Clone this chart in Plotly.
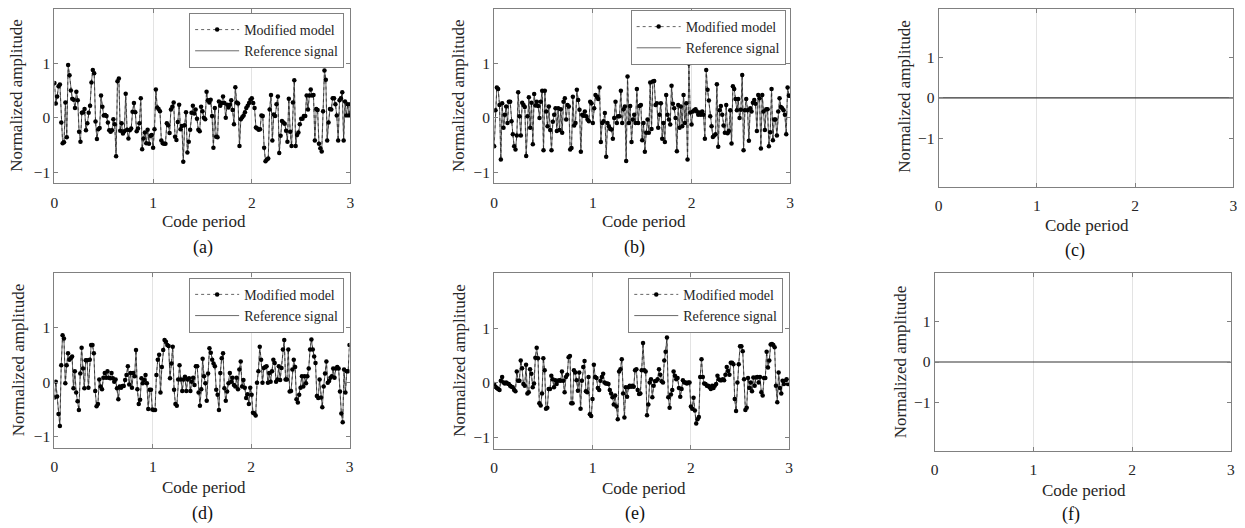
import numpy as np
import plotly.graph_objects as go

# ---------------- data ----------------
amp_a = [
    0.64, 0.26, 0.39, 0.58, 0.61, -0.09, -0.47, -0.45, 0.28, -0.36,
    0.97, 0.78, 0.50, 0.35, 0.33, 0.18, 0.48, 0.32, -0.26, -0.44,
    0.09, 0.10, 0.16, -0.23, -0.10, 0.09, 0.22, 0.65, 0.88, 0.82,
    -0.07, -0.39, -0.21, -0.19, 0.41, 0.20, 0.04, 0.05, 0.03, -0.09,
    -0.23, -0.26, -0.23, -0.03, -0.12, -0.71, 0.67, 0.72, -0.24, -0.10,
    -0.29, -0.25, 0.44, -0.22, -0.38, -0.23, -0.20, 0.11, 0.27, 0.10,
    -0.25, -0.20, -0.10, 0.36,
    -0.58, -0.38, -0.27, -0.47, -0.22, -0.48, -0.33, -0.32, -0.55, -0.21,
    0.52, 0.19, 0.16, 0.12, -0.42, -0.47, -0.48, -0.48, -0.10, -0.14,
    -0.28, 0.15, 0.20, 0.28, -0.35, -0.41, -0.08, 0.24, -0.21, -0.15,
    -0.81, -0.14, 0.10, -0.64, -0.44, -0.22, 0.09, 0.22, 0.08, 0.15,
    -0.02, -0.22, -0.25, 0.20, 0.12, 0.00, -0.03, 0.48, 0.32, 0.28,
    0.33, 0.03, -0.55, 0.18, -0.35, -0.36, 0.30, 0.22, 0.27, 0.39,
    0.27, 0.00, 0.24, 0.19, 0.24, 0.32, 0.14, -0.12, 0.56, 0.28,
    0.26, -0.52, -0.03, 0.01, 0.04, 0.10, 0.18, 0.22, 0.27, 0.33,
    0.36, 0.27, 0.18, -0.18, -0.20, -0.22, -0.21, 0.04, 0.03, -0.55,
    -0.80, -0.77, -0.75, 0.15, 0.42, -0.42, 0.06, 0.03, 0.25, 0.39,
    -0.65, -0.33, -0.06, -0.09, -0.11, -0.24, -0.44, 0.35, -0.26, -0.52,
    0.28, 0.69, -0.52, -0.32, -0.27, -0.12, -0.02, -0.02, 0.03, 0.03,
    0.41, 0.15, 0.41, 0.52, 0.41, 0.42, -0.42, 0.16, 0.14, -0.48,
    -0.56, -0.62, 0.12, 0.87, 0.70, -0.42, -0.09, 0.16, 0.15, 0.36,
    0.36, 0.25, 0.04, -0.42, 0.32, 0.36, 0.47, -0.42, 0.30, 0.04,
    0.25, 0.04, 0.25,
]

amp_b = [
    -0.52, 0.14, 0.56, 0.53, 0.24, -0.76, 0.27, -0.18, 0.06, 0.21,
    -0.09, 0.30, 0.30, -0.06, -0.30, -0.52, -0.58, -0.32, 0.47, 0.03,
    -0.32, 0.28, 0.24, 0.20, -0.70, 0.03, 0.38, -0.18, 0.28, -0.48,
    0.44, 0.23, 0.30, 0.22, 0.00, 0.30, 0.50, -0.59, 0.50, 0.12,
    -0.15, 0.21, -0.22, -0.59, -0.07, 0.06, 0.18, -0.24, 0.18, -0.22,
    0.16, -0.27, 0.30, 0.36, -0.03, 0.24, 0.21, -0.58, -0.55, 0.39,
    -0.14, -0.09, 0.52, 0.33, 0.15, -0.62, 0.06, 0.04, 0.12, 0.03,
    -0.03, -0.06, 0.30, 0.27, -0.09, 0.18, 0.42, 0.39, 0.35, 0.56,
    -0.44, -0.09, -0.06, 0.09, -0.71, -0.09, -0.15, -0.20, -0.21, -0.38,
    0.00, 0.30, -0.09, 0.03, 0.03, 0.50, -0.09, 0.16, 0.21, -0.79,
    0.76, -0.09, 0.22, -0.44, -0.03, 0.06, -0.09, 0.53, -0.09, 0.22,
    0.24, -0.41, -0.09, -0.62, -0.27, -0.03, -0.27, 0.65, -0.20, 0.67,
    0.68, 0.24, 0.27, -0.18, 0.06, 0.27, -0.38, -0.09, -0.44, 0.42,
    0.06, -0.03, -0.12, 0.59, 0.26, 0.18, 0.00, -0.61, 0.24, -0.18,
    0.21, -0.15, 0.42, -0.09, 0.27, -0.76, 1.00, 0.10, -0.12, 0.12,
    0.14, 0.16, 0.12, 0.06, 0.10, 0.06, 0.12, 0.06, -0.38, 0.88,
    0.52, 0.32, 0.03, -0.15, -0.35, -0.32, -0.30, 0.62, -0.53, 0.14,
    0.22, 0.06, -0.14, -0.27, 0.24, -0.28, -0.24, 0.14, -0.47, 0.58,
    0.53, 0.35, 0.14, 0.35, 0.00, 0.15, 0.79, -0.59, 0.14, 0.35,
    0.14, -0.42, 0.18, 0.12, 0.28, 0.33, 0.26, -0.24, 0.42, 0.36,
    -0.56, 0.42, 0.12, -0.22, 0.16, 0.16, -0.52, -0.26, 0.53, -0.41,
    -0.03, -0.03, -0.32, 0.12, 0.36, 0.20, 0.18, 0.14, 0.06, -0.30,
    0.56, 0.41, 0.41,
]

amp_d = [
    -0.28, 0.01, -0.26, -0.58, -0.80, 0.31, 0.86, 0.80, -0.02, 0.31,
    0.53, 0.41, 0.44, 0.47, -0.11, 0.20, -0.19, -0.35, -0.51, 0.16,
    0.63, 0.25, -0.11, 0.40, 0.40, -0.10, 0.41, 0.68, 0.68, 0.53,
    -0.16, -0.44, -0.40, 0.05, -0.08, -0.13, 0.08, 0.17, 0.08, 0.20,
    0.08, 0.07, 0.17, 0.07, 0.01, 0.05, -0.11, -0.31, -0.08, -0.10,
    -0.07, -0.07, 0.04, 0.13, 0.29, -0.04, 0.17, -0.10, 0.17, 0.11,
    0.59, -0.13, -0.40, -0.32, 0.07, -0.02, 0.04, 0.13, -0.02, -0.49,
    -0.14, -0.14, -0.50, -0.51, -0.51, 0.13, 0.41, 0.50, -0.19, 0.28,
    0.59, 0.77, 0.74, 0.68, 0.66, 0.07, 0.34, 0.65, -0.14, -0.40,
    -0.43, 0.05, 0.31, 0.05, -0.16, 0.05, 0.10, -0.16, 0.05, 0.07,
    -0.16, 0.01, 0.08, -0.05, 0.29, 0.29, -0.19, -0.43, -0.13, 0.43,
    0.11, -0.02, -0.34, 0.16, 0.62, 0.54, 0.41, 0.34, 0.29, -0.14,
    -0.23, -0.51, 0.17, 0.44, 0.53, -0.11, -0.34, -0.17, -0.02, 0.17,
    0.01, 0.08, -0.05, -0.08, 0.08, -0.13, 0.23, 0.38, -0.08, 0.04,
    -0.10, -0.29, -0.22, -0.40, -0.10, -0.23, -0.56, -0.57, -0.61, -0.01,
    0.20, 0.65, 0.41, -0.01, 0.26, 0.28, 0.29, -0.01, 0.17, 0.01,
    0.20, 0.41, 0.35, 0.01, 0.05, 0.29, 0.04, 0.26, 0.60, 0.77,
    0.05, 0.05, 0.60, -0.17, -0.16, 0.23, 0.41, 0.28, -0.31, -0.37,
    -0.23, -0.10, 0.11, -0.08, 0.11, -0.02, 0.11, 0.25, 0.60, 0.78,
    0.60, 0.47, 0.35, -0.25, -0.29, 0.05, -0.28, -0.46, -0.08, 0.16,
    0.38, -0.01, 0.02, 0.08, 0.11, 0.25, 0.08, 0.25, 0.28, 0.25,
    -0.17, -0.57, -0.73, 0.23, -0.19, 0.20, 0.20, 0.68,
]

amp_e = [
    -0.02, -0.07, -0.09, -0.11, -0.13, 0.04, 0.11, 0.01, -0.01, 0.01,
    -0.01, -0.02, -0.05, -0.07, -0.08, -0.13, -0.15, 0.21, 0.04, 0.04,
    0.41, 0.27, -0.02, -0.05, 0.33, -0.19, -0.17, 0.25, 0.17, -0.08,
    -0.01, 0.46, 0.64, 0.45, -0.37, -0.41, -0.19, 0.45, 0.23, -0.47,
    -0.45, -0.11, -0.11, 0.13, 0.07, -0.08, 0.05, -0.02, 0.04, 0.05,
    0.04, 0.21, 0.04, -0.17, 0.11, 0.15, 0.47, 0.49, -0.37, -0.37,
    0.23, 0.19, 0.05, -0.14, 0.19, -0.47, 0.04, 0.29, 0.40, -0.15,
    -0.17, 0.11, -0.57, -0.60, -0.29, 0.33, 0.11, 0.09, -0.09, -0.13,
    0.04, 0.11, 0.17, 0.01, -0.01, -0.01, -0.02, -0.13, -0.19, -0.26,
    -0.39, -0.23, -0.43, -0.66, 0.21, 0.25, 0.43, -0.19, -0.63, -0.08,
    -0.25, -0.08, -0.05, -0.07, -0.05, -0.07, 0.23, 0.25, -0.13, -0.20,
    -0.19, 0.23, 0.73, 0.23, 0.21, -0.59, -0.39, 0.01, 0.07, -0.26,
    -0.05, 0.03, 0.04, 0.07, 0.25, 0.15, 0.03, 0.01, 0.41, 0.57,
    0.83, -0.26, -0.45, -0.21, -0.13, 0.21, 0.13, 0.07, 0.09, -0.09,
    -0.25, -0.11, 0.05, 0.01, 0.01, -0.01, 0.01, 0.01, -0.43, -0.47,
    -0.27, -0.50, -0.74, -0.66, -0.62, 0.11, 0.43, 0.11, -0.01, -0.02,
    -0.05, -0.05, -0.08, -0.11, -0.05, -0.09, -0.05, -0.02, 0.13, 0.07,
    0.05, 0.05, 0.07, 0.05, 0.15, 0.29, 0.22, 0.15, 0.37, 0.37,
    0.34, -0.29, -0.51, 0.01, 0.34, 0.67, 0.67, 0.58, 0.07, -0.49,
    -0.45, 0.09, -0.09, 0.01, -0.15, 0.10, -0.05, 0.10, 0.11, 0.01,
    0.11, -0.17, -0.23, 0.09, 0.09, 0.57, 0.28, 0.41, 0.70, 0.71,
    0.69, 0.65, -0.05, -0.35, 0.19, -0.09, -0.19, 0.04, -0.02, 0.04,
    0.07, -0.02, -0.02,
]

# panels (c) and (f): both signals are identically zero
flat_x = [0, 3]
flat_c = [0.0, 0.0]
flat_f = [0.0, 0.0]

code_period_span = 3
x_ticks = [0, 1, 2, 3]
y_ticks = [-1, 0, 1]
panel_labels = ["(a)", "(b)", "(c)", "(d)", "(e)", "(f)"]
series_names = ["Modified model", "Reference signal"]
x_title = "Code period"
y_title = "Normalized amplitude"

# ---------------- layout geometry ----------------
# the page body has an 8px margin, so the figure is drawn 8px in from the window corner
OFF = 8
W, H = 1237, 520
FONT = "Liberation Serif, Times New Roman, serif"
TXT = "#262626"
AXC = "#808080"

# plot-area boxes in window pixels: left, top, right, bottom
boxes = [
    (50.7, 8.0, 348.7, 182.3),
    (493.3, 8.0, 791.3, 182.7),
    (940.7, 8.0, 1237.3, 186.0),
    (50.7, 272.3, 347.7, 447.7),
    (493.3, 272.7, 790.3, 448.7),
    (936.7, 272.7, 1234.7, 450.7),
]
yranges = [[-1.2, 2], [-1.2, 2], [-2.2, 2.2], [-1.2, 2], [-1.2, 2], [-2.2, 2.2]]


def clamp(v):
    return min(1.0, max(0.0, v))


def px_x(v):
    return (v - OFF) / W


def px_y(v):
    return 1 - (v - OFF) / H


fig = go.Figure()

signals = [amp_a, amp_b, None, amp_d, amp_e, None]
flats = [None, None, flat_c, None, None, flat_f]
legend_ids = ["legend", "legend2", None, "legend3", "legend4", None]

for i in range(6):
    ax = "" if i == 0 else str(i + 1)
    xref, yref = "x" + ax, "y" + ax
    if signals[i] is not None:
        vals = signals[i]
        xs = np.linspace(0, code_period_span, len(vals))
        fig.add_trace(go.Scatter(
            x=xs, y=vals, mode="lines", name=series_names[1],
            line=dict(color="#6a6a6a", width=1),
            xaxis=xref, yaxis=yref, legend=legend_ids[i], legendrank=2,
        ))
        fig.add_trace(go.Scatter(
            x=xs, y=vals, mode="lines+markers", name=series_names[0],
            line=dict(color="#222222", width=0.7, dash="dot"),
            marker=dict(color="black", size=4.5, symbol="circle"),
            xaxis=xref, yaxis=yref, legend=legend_ids[i], legendrank=1,
        ))
    else:
        fig.add_trace(go.Scatter(
            x=flat_x, y=flats[i], mode="lines", showlegend=False,
            line=dict(color="#333333", width=1.2),
            xaxis=xref, yaxis=yref,
        ))

axis_common = dict(
    showline=True, linecolor=AXC, linewidth=1, mirror="allticks",
    ticks="inside", ticklen=4, tickcolor=AXC, zeroline=False,
    tickfont=dict(family=FONT, size=15.5, color=TXT),
)

layout_axes = {}
for i, (l, t, r, b) in enumerate(boxes):
    ax = "" if i == 0 else str(i + 1)
    layout_axes["xaxis" + ax] = dict(
        axis_common, domain=[clamp(px_x(l)), clamp(px_x(r))], range=[0, 3],
        tickvals=x_ticks, showgrid=True, gridcolor="#e3e3e3", gridwidth=1,
        anchor="y" + ax, ticklabelstandoff=5,
    )
    layout_axes["yaxis" + ax] = dict(
        axis_common, domain=[clamp(px_y(b)), clamp(px_y(t))], range=yranges[i],
        tickvals=y_ticks, showgrid=False, anchor="x" + ax,
    )
fig.update_layout(**layout_axes)

# legends for panels a, b, d, e: (right, top) in window px
legend_pos = {"legend": (342.3, 12), "legend2": (786.7, 9),
              "legend3": (342.3, 277.3), "legend4": (784.3, 277.3)}
leg_layout = {}
for k, (rx, ty) in legend_pos.items():
    leg_layout[k] = dict(
        x=clamp(px_x(rx)), y=clamp(px_y(ty)), xanchor="right", yanchor="top",
        bgcolor="white", bordercolor=AXC, borderwidth=1, itemwidth=44,
        font=dict(family=FONT, size=14, color=TXT), tracegroupgap=0,
    )
fig.update_layout(**leg_layout)

annotations = []
xt_pos = [(201, 221), (644, 221), (1090, 225), (201, 487), (644, 488), (1087, 490)]
yt_pos = [(13, 95), (458, 95), (906.7, 96), (14, 360), (458.3, 360), (901.7, 362)]
lab_pos = [(200, 247), (635, 247), (1078, 250), (200, 513), (635, 513), (1074, 514)]
for i in range(6):
    annotations.append(dict(
        text=x_title, x=px_x(xt_pos[i][0]), y=px_y(xt_pos[i][1]), xref="paper", yref="paper",
        xanchor="center", yanchor="middle", showarrow=False,
        font=dict(family=FONT, size=17, color=TXT),
    ))
    annotations.append(dict(
        text=y_title, x=px_x(yt_pos[i][0]), y=px_y(yt_pos[i][1]), xref="paper", yref="paper",
        xanchor="center", yanchor="middle", showarrow=False, textangle=-90,
        font=dict(family=FONT, size=17, color=TXT),
    ))
    annotations.append(dict(
        text=panel_labels[i], x=px_x(lab_pos[i][0]), y=px_y(lab_pos[i][1]), xref="paper", yref="paper",
        xanchor="center", yanchor="middle", showarrow=False,
        font=dict(family=FONT, size=18, color="#111111"),
    ))

fig.update_layout(
    width=W, height=H,
    margin=dict(l=0, r=0, t=0, b=0),
    paper_bgcolor="white", plot_bgcolor="white",
    annotations=annotations,
    font=dict(family=FONT, color=TXT),
)

fig.write_html("out.html")
